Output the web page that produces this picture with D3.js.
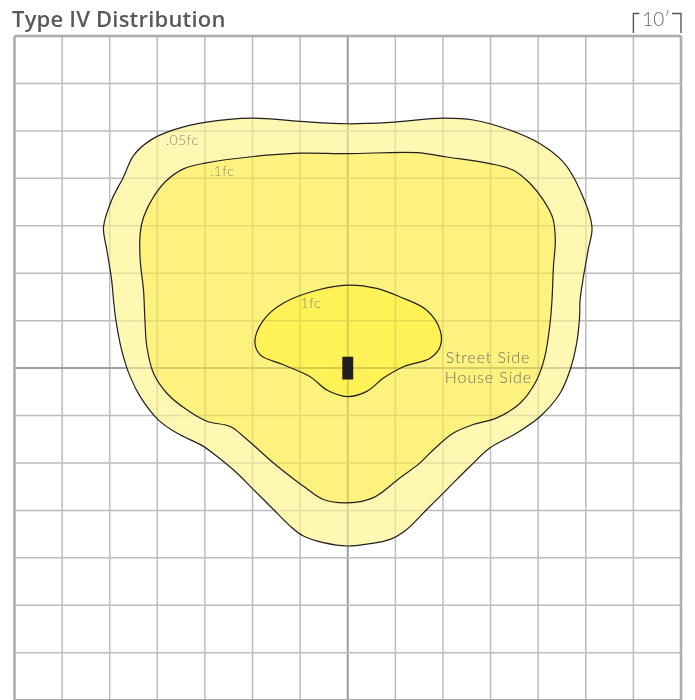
<!DOCTYPE html>
<html>
<head>
<meta charset="utf-8">
<script src="https://cdn.jsdelivr.net/npm/d3@7"></script>
<style>
  body { margin: 0; background: #fff; }
  svg { display: block; }
</style>
</head>
<body>
<div id="chart"></div>
<script>
// grid in feet, one cell = 10'
var gridTicks = d3.range(-70, 71, 10);

// iso-footcandle contours, [feet east, feet street-ward], clockwise from top
var contour005 = [[0, 51.5], [8.9, 51.8], [20.1, 52.7], [26.4, 52.3], [33.4, 50.4], [40.4, 47.3], [45.3, 43.4],
    [48.8, 37.5], [51.3, 29.7], [50.5, 24.9], [49.5, 19.2], [48.8, 14.3], [48.7, 10.8], [48.1, 5.3],
    [46.7, -0.4], [44.6, -5.3], [40.4, -10.2], [35.5, -13.7], [29.9, -16.8], [25.7, -20.7], [20.8, -25.6],
    [16.6, -29.8], [12.4, -34.0], [8.9, -36.1], [4.0, -37.1], [0, -37.5], [-5.1, -36.8], [-9.3, -35.4],
    [-12.1, -33.3], [-15.6, -29.8], [-19.8, -25.6], [-23.3, -22.1], [-27.5, -18.6], [-30.3, -16.5],
    [-35.9, -13.7], [-39.8, -10.9], [-43.6, -6.0], [-45.7, -1.8], [-47.5, 3.8], [-48.7, 10.1], [-49.2, 14.3],
    [-49.6, 18.6], [-50.6, 24.9], [-51.3, 29.7], [-49.6, 35.4], [-47.1, 40.3], [-45.0, 44.8], [-41.5, 48.0],
    [-36.6, 50.2], [-30.0, 51.8], [-20.0, 52.7], [-10.0, 52.0]];

var contour01 = [[0, 45.2], [14.5, 45.4], [20.8, 44.5], [29.9, 43.1], [34.8, 41.7], [38.3, 38.9], [41.1, 35.4],
    [43.1, 31.5], [43.6, 27.0], [43.2, 21.3], [42.9, 14.3], [42.5, 9.5], [41.4, 2.4], [39.7, -2.5],
    [36.2, -7.4], [31.3, -10.5], [26.4, -11.9], [22.2, -13.7], [18.0, -17.2], [14.8, -20.3], [11.0, -23.1],
    [5.4, -27.3], [0, -28.4], [-5.1, -27.7], [-9.3, -24.9], [-12.1, -22.8], [-15.6, -20.0], [-21.9, -14.4],
    [-24.7, -12.3], [-29.6, -11.2], [-33.8, -8.8], [-38.0, -5.3], [-40.8, -1.1], [-42.2, 4.5], [-42.6, 10.1],
    [-42.9, 16.4], [-43.6, 22.8], [-43.6, 28.4], [-42.9, 31.8], [-40.8, 36.1], [-38.0, 39.6], [-34.5, 42.0],
    [-30.0, 43.2], [-19.8, 44.6], [-10.0, 45.3]];

var contour1 = [[0, 17.5], [6.1, 16.8], [11.0, 15.0], [16.6, 12.2], [19.4, 8.0], [19.4, 4.5], [17.3, 2.1],
    [11.7, 0.3], [7.5, -2.1], [4.0, -4.9], [0, -6.0], [-4.4, -4.6], [-7.9, -1.8], [-13.5, 0.7], [-18.4, 2.8],
    [-19.5, 5.6], [-17.7, 10.1], [-13.5, 13.7], [-6.5, 16.4]];

var contourNames = [".05fc", ".1fc", "1fc"];
var contourColors = ["#fef8b3", "#fdf27d", "#fef257"];

// label anchors (feet)
var labelText = [".05fc", ".1fc", "1fc", "Street Side", "House Side"];
var labelX = [-38.2, -28.9, -9.9, 20.6, 20.4];
var labelY = [47.0, 40.4, 12.7, 1.0, -3.1];

var width = 695, height = 700;

var x = d3.scaleLinear().domain([-70, 70]).range([14.5, 681]);
var y = d3.scaleLinear().domain([-70, 70]).range([700.2, 36]);

var svg = d3.select("#chart").append("svg")
    .attr("width", width)
    .attr("height", height);

svg.append("text")
    .attr("x", 12)
    .attr("y", 27)
    .attr("font-family", "'Open Sans', sans-serif")
    .attr("font-weight", 600)
    .attr("font-size", 22)
    .attr("letter-spacing", 0.2)
    .attr("fill", "#58595b")
    .text("Type IV Distribution");

// scale bracket over the last cell
var sb = svg.append("g").attr("fill", "none").attr("stroke", "#555").attr("stroke-width", 1.4);
sb.append("path").attr("d", "M" + x(60) + ",33V13.5H" + (x(60) + 6));
sb.append("path").attr("d", "M" + (x(70) - 9) + ",13.5H" + x(70) + "V33");
svg.append("text")
    .attr("x", (x(60) + x(70)) / 2 - 1)
    .attr("y", 26)
    .attr("text-anchor", "middle")
    .attr("font-family", "Lato, sans-serif")
    .attr("font-weight", 300)
    .attr("font-size", 19)
    .attr("fill", "#666")
    .text("10\u2032");

var line = d3.line()
    .x(function (d) { return x(d[0]); })
    .y(function (d) { return y(d[1]); })
    .curve(d3.curveCatmullRomClosed.alpha(0.5));

function gridColor(d) { return d === 0 ? "#bcbcc0" : (Math.abs(d) === 70 ? "#c6c6ca" : "#d3d3d3"); }
function gridWidth(d) { return d === 0 ? 2 : (Math.abs(d) === 70 ? 2.5 : 1.5); }

function drawGrid(g) {
    g.selectAll("line.v").data(gridTicks).enter().append("line")
        .attr("x1", function (d) { return x(d); })
        .attr("x2", function (d) { return x(d); })
        .attr("y1", y(70)).attr("y2", y(-70))
        .attr("stroke", gridColor)
        .attr("stroke-width", gridWidth);
    g.selectAll("line.h").data(gridTicks).enter().append("line")
        .attr("y1", function (d) { return y(d); })
        .attr("y2", function (d) { return y(d); })
        .attr("x1", x(-70)).attr("x2", x(70))
        .attr("stroke", gridColor)
        .attr("stroke-width", gridWidth);
}

drawGrid(svg.append("g"));

var contours = [contour005, contour01, contour1];
svg.append("g").selectAll("path").data(contours).enter().append("path")
    .attr("d", line)
    .attr("fill", function (d, i) { return contourColors[i]; })
    .attr("stroke", "#231f20")
    .attr("stroke-width", 1.2);

// grid seen through the fills
drawGrid(svg.append("g").style("mix-blend-mode", "multiply").attr("opacity", 0.6));

// fixture
svg.append("rect")
    .attr("x", x(-1.15)).attr("width", x(1.15) - x(-1.15))
    .attr("y", y(2.4)).attr("height", y(-2.4) - y(2.4))
    .attr("fill", "#231f20");

svg.append("g").selectAll("text").data(labelText).enter().append("text")
    .attr("x", function (d, i) { return x(labelX[i]); })
    .attr("y", function (d, i) { return y(labelY[i]); })
    .attr("font-family", "Lato, sans-serif")
    .attr("font-weight", 300)
    .attr("font-size", function (d, i) { return i < 3 ? 14 : 16; })
    .attr("letter-spacing", function (d, i) { return i < 3 ? 0.4 : 0.9; })
    .attr("fill", function (d, i) { return i < 3 ? "#8a8a80" : "#707070"; })
    .text(function (d) { return d; });
</script>
</body>
</html>
